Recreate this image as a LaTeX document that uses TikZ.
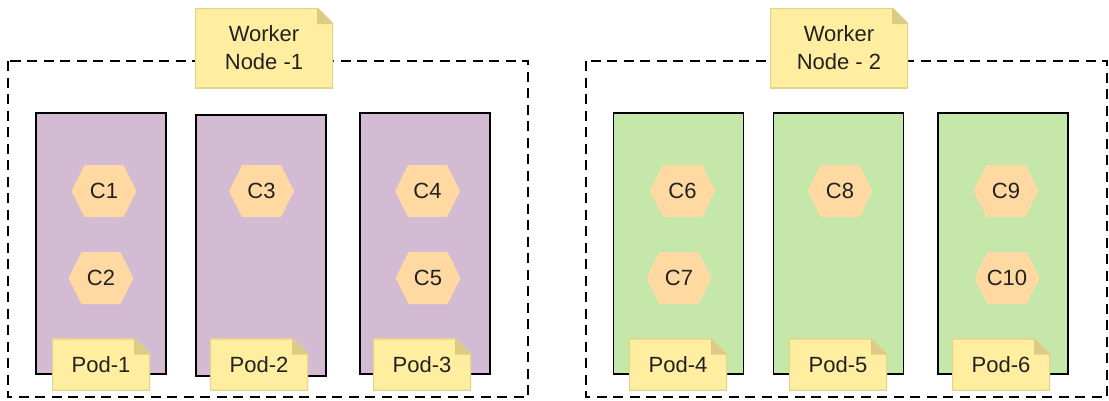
\documentclass[tikz,border=0pt]{standalone}
\usepackage{fontspec}
\setmainfont{Liberation Sans}
\usetikzlibrary{positioning}
\definecolor{podpurple}{HTML}{D3BBD4}
\definecolor{podgreen}{HTML}{C6E7AA}
\definecolor{hexorange}{HTML}{FFD9A1}
\definecolor{noteyellow}{HTML}{FFEDA0}
\definecolor{noteedge}{HTML}{E3D38C}
\definecolor{notefold}{HTML}{DCCB84}
\definecolor{textdark}{HTML}{222222}
\tikzset{
  workerbox/.style={
    draw=black,
    line width=2.7pt,
    dash pattern=on 10pt off 6.5pt
  },
  pod/.style={
    draw=black,
    line width=1.8pt,
    minimum width=130pt,
    minimum height=261pt,
    inner sep=0pt
  },
  purplepod/.style={
    pod,
    fill=podpurple
  },
  greenpod/.style={
    pod,
    fill=podgreen
  },
  container/.style={
    minimum width=65pt,
    minimum height=52pt,
    inner sep=0pt,
    text=textdark,
    font=\fontsize{22}{26}\selectfont,
    path picture={
      \fill[hexorange] (path picture bounding box.west)
        -- ([xshift=13pt]path picture bounding box.north west)
        -- ([xshift=-13pt]path picture bounding box.north east)
        -- (path picture bounding box.east)
        -- ([xshift=-13pt]path picture bounding box.south east)
        -- ([xshift=13pt]path picture bounding box.south west) -- cycle;
    }
  },
  note/.style={
    inner sep=0pt,
    align=center,
    text=textdark,
    font=\fontsize{22}{28}\selectfont,
    path picture={
      \fill[noteyellow, draw=noteedge, line width=2pt] (path picture bounding box.south west)
        -- (path picture bounding box.north west)
        -- ([xshift=-16pt]path picture bounding box.north east)
        -- ([yshift=-16pt]path picture bounding box.north east)
        -- (path picture bounding box.south east) -- cycle;
      \fill[notefold] ([xshift=-16pt]path picture bounding box.north east)
        -- ([yshift=-16pt]path picture bounding box.north east)
        -- ([xshift=-16pt, yshift=-16pt]path picture bounding box.north east) -- cycle;
    }
  },
  workernote/.style={
    note,
    minimum width=138pt,
    minimum height=80pt
  },
  podnote/.style={
    note,
    minimum width=98pt,
    minimum height=52pt
  }
}

\begin{document}
\begin{tikzpicture}[x=1pt, y=-1pt]
  \useasboundingbox (0,0) rectangle (1109,400);

  % worker nodes
  \draw[workerbox] (8,61) rectangle (528,397);
  \draw[workerbox] (586,61) rectangle (1107,397);
  \node[workernote] (worker1) at (264,48) {Worker\\Node -1};
  \node[workernote] (worker2) at (839,48) {Worker\\Node - 2};

  % pods
  \node[purplepod] (pod1) at (101,243.5) {};
  \node[purplepod] (pod2) at (261,245.5) {};
  \node[purplepod] (pod3) at (425,243.5) {};
  \node[greenpod] (pod4) at (678.5,243.5) {};
  \node[greenpod] (pod5) at (838.5,243.5) {};
  \node[greenpod] (pod6) at (1003,243.5) {};

  % containers
  \node[container] (c1) at (104,191) {C1};
  \node[container] (c2) at (101,278) {C2};
  \node[container] (c3) at (261.5,191) {C3};
  \node[container] (c4) at (427.5,191) {C4};
  \node[container] (c5) at (428,278) {C5};
  \node[container] (c6) at (682.5,191) {C6};
  \node[container] (c7) at (679,278) {C7};
  \node[container] (c8) at (840,191) {C8};
  \node[container] (c9) at (1006,191) {C9};
  \node[container] (c10) at (1007,278) {C10};

  % pod labels
  \node[podnote] (label1) at (101,364.5) {Pod-1};
  \node[podnote] (label2) at (259,364.5) {Pod-2};
  \node[podnote] (label3) at (422,364.5) {Pod-3};
  \node[podnote] (label4) at (678,364.5) {Pod-4};
  \node[podnote] (label5) at (838,364.5) {Pod-5};
  \node[podnote] (label6) at (1001,364.5) {Pod-6};
\end{tikzpicture}
\end{document}
